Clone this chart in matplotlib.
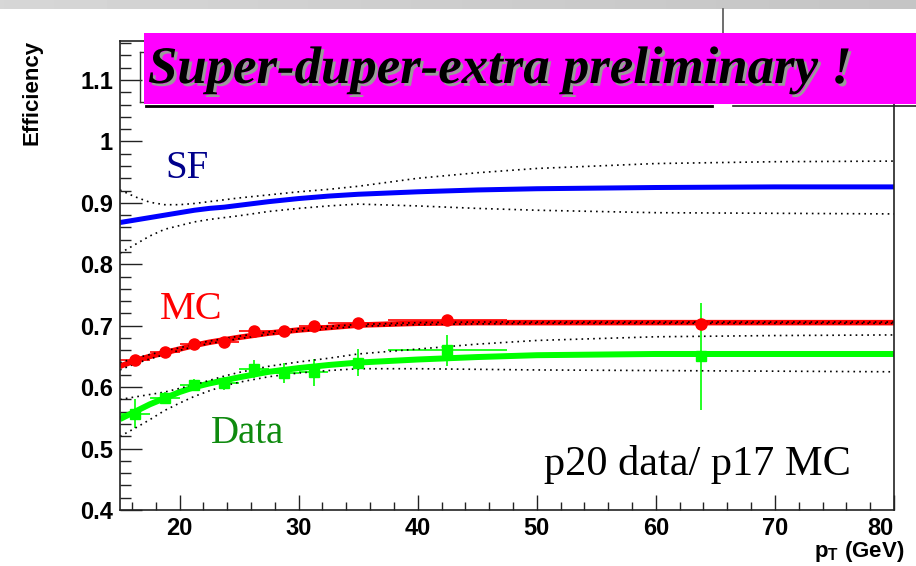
import matplotlib
matplotlib.use("Agg")
import matplotlib.pyplot as plt
import matplotlib.patheffects as pe
from matplotlib.lines import Line2D
from matplotlib.patches import Rectangle
import numpy as np

# data ========================================================================
pt_bins = [16.25, 18.75, 21.25, 23.75, 26.25, 28.75, 31.25, 35.0, 42.5, 63.75]
pt_halfwidth = [1.25, 1.25, 1.25, 1.25, 1.25, 1.25, 1.25, 2.5, 5.0, 16.25]

mc_eff = [0.644, 0.658, 0.671, 0.673, 0.691, 0.692, 0.699, 0.704, 0.709, 0.703]
mc_err = [0.006, 0.005, 0.005, 0.005, 0.004, 0.004, 0.004, 0.004, 0.004, 0.005]

data_eff = [0.557, 0.582, 0.603, 0.606, 0.630, 0.623, 0.624, 0.640, 0.660, 0.650]
data_err = [0.023, 0.010, 0.010, 0.011, 0.015, 0.016, 0.022, 0.022, 0.025, 0.087]

# fit curves and their error bands
fit_x = [15, 16.25, 17.5, 18.75, 20, 21.25, 22.5, 23.75, 25, 27.5, 30, 32.5, 35, 40, 45, 50, 60, 70, 80]
mc_fit = [0.634, 0.643, 0.650, 0.656, 0.662, 0.668, 0.673, 0.677, 0.681, 0.688, 0.693, 0.697, 0.701, 0.704, 0.705, 0.705, 0.705, 0.705, 0.705]
mc_hi = [0.640, 0.647, 0.653, 0.659, 0.664, 0.670, 0.675, 0.679, 0.683, 0.690, 0.695, 0.699, 0.702, 0.705, 0.706, 0.706, 0.706, 0.706, 0.706]
mc_lo = [0.628, 0.638, 0.646, 0.653, 0.660, 0.666, 0.671, 0.675, 0.679, 0.686, 0.691, 0.695, 0.699, 0.702, 0.703, 0.704, 0.704, 0.704, 0.704]
data_fit = [0.548, 0.560, 0.572, 0.582, 0.592, 0.600, 0.606, 0.611, 0.616, 0.625, 0.631, 0.636, 0.640, 0.645, 0.649, 0.652, 0.654, 0.654, 0.654]
data_hi = [0.580, 0.584, 0.588, 0.592, 0.598, 0.604, 0.611, 0.618, 0.624, 0.634, 0.641, 0.647, 0.654, 0.662, 0.670, 0.676, 0.682, 0.684, 0.685]
data_lo = [0.520, 0.533, 0.547, 0.562, 0.574, 0.585, 0.594, 0.602, 0.608, 0.617, 0.623, 0.627, 0.630, 0.630, 0.629, 0.628, 0.627, 0.626, 0.625]
sf_fit = [0.868, 0.872, 0.876, 0.880, 0.884, 0.888, 0.891, 0.893, 0.896, 0.902, 0.907, 0.911, 0.914, 0.918, 0.921, 0.923, 0.925, 0.926, 0.926]
sf_hi = [0.921, 0.910, 0.901, 0.897, 0.897, 0.899, 0.902, 0.905, 0.908, 0.913, 0.918, 0.922, 0.927, 0.940, 0.949, 0.956, 0.964, 0.967, 0.968]
sf_lo = [0.818, 0.832, 0.846, 0.857, 0.863, 0.869, 0.873, 0.876, 0.879, 0.886, 0.891, 0.895, 0.898, 0.895, 0.891, 0.888, 0.884, 0.883, 0.882]

W, H = 916, 566
plt.rcParams['mathtext.fontset'] = 'custom'
plt.rcParams['mathtext.bf'] = 'Liberation Sans:bold'
plt.rcParams['mathtext.rm'] = 'Liberation Sans'

fig = plt.figure(figsize=(W / 100, H / 100), dpi=100)
fig.patch.set_facecolor('white')

def fx(px):
    return px / W

def fy(py):
    return 1 - py / H

# slide header bar ============================================================
bar = fig.add_axes([0, fy(9), 1, 9 / H])
grad = np.linspace(0.84, 0.77, 256).reshape(1, -1)
bar.imshow(grad, aspect='auto', cmap='gray', vmin=0, vmax=1)
bar.axis('off')

# main pad ====================================================================
ax = fig.add_axes([fx(120), fy(510), fx(894 - 120), (510 - 41) / H])
ax.set_xlim(15, 80)
ax.set_ylim(0.4, 1.1635)

dots = dict(color='black', lw=1.2, ls=(0, (1, 2.5)))

# scale factor
ax.plot(fit_x, sf_hi, **dots)
ax.plot(fit_x, sf_lo, **dots)
ax.plot(fit_x, sf_fit, color='#0000ff', lw=3.6, solid_capstyle='butt')

# data
ax.errorbar(pt_bins, data_eff, xerr=pt_halfwidth, yerr=data_err, fmt='s',
            color='#00ff00', ms=7.5, elinewidth=1.2, capsize=0)
ax.plot(fit_x, data_fit, color='#00ff00', lw=4.3, solid_capstyle='butt')
ax.plot(fit_x, data_hi, **dots)
ax.plot(fit_x, data_lo, **dots)

# MC
ax.errorbar(pt_bins, mc_eff, xerr=pt_halfwidth, yerr=mc_err, fmt='o',
            color='#ff0000', ms=8, elinewidth=1.2, capsize=0)
ax.plot(fit_x, mc_fit, color='#ff0000', lw=4.0, solid_capstyle='butt')
ax.plot(fit_x, mc_hi, **dots)
ax.plot(fit_x, mc_lo, **dots)

# axes styling
ax.set_xticks(np.arange(20, 81, 10))
ax.set_xticks(np.arange(16, 81, 2), minor=True)
ax.set_yticks(np.arange(0.4, 1.15, 0.1))
ax.set_yticks(np.arange(0.4, 1.165, 0.02), minor=True)
ax.set_yticklabels(['0.4', '0.5', '0.6', '0.7', '0.8', '0.9', '1', '1.1'])
ax.tick_params(which='both', direction='in', top=False, right=False, color='#222222')
ax.tick_params(axis='y', which='major', length=15.5, width=1.0, pad=5)
ax.tick_params(axis='y', which='minor', length=8, width=1.0)
ax.tick_params(axis='x', which='major', length=11, width=1.0, pad=5)
ax.tick_params(axis='x', which='minor', length=5.5, width=1.0)
for lab in ax.get_xticklabels() + ax.get_yticklabels():
    lab.set_fontfamily('Liberation Sans')
    lab.set_fontweight('bold')
    lab.set_fontsize(17)
# ROOT pulls the last label inside the frame
ax.get_xticklabels()[-1].set_horizontalalignment('right')
for s in ax.spines.values():
    s.set_linewidth(1.2)
    s.set_color('#222222')

# labels on the plot
serif = 'Liberation Serif'
ax.text(18.77, 0.940, 'SF', color='#00008b', fontsize=28, family=serif, va='baseline')
ax.text(18.35, 0.711, 'MC', color='#ff0000', fontsize=29, family=serif, va='baseline')
ax.text(22.6, 0.509, 'Data', color='#0f8a0f', fontsize=28, family=serif, va='baseline')
ax.text(50.6, 0.457, 'p20 data/ p17 MC', color='black', fontsize=30.5, family=serif, va='baseline')

fig.text(fx(32), fy(40), 'Efficiency', rotation=90, ha='center', va='top',
         family='Liberation Sans', fontweight='bold', fontsize=16)
fig.text(fx(904), fy(557), r'$\mathbf{p_{T}}$ (GeV)', ha='right', va='baseline',
         family='Liberation Sans', fontweight='bold', fontsize=16)

# "preliminary" banner ========================================================
fig.add_artist(Line2D([fx(140), fx(140)], [fy(52), fy(102)], color='#333333', lw=1))
fig.add_artist(Line2D([fx(140), fx(144)], [fy(52), fy(52)], color='#333333', lw=1))
fig.add_artist(Line2D([fx(140), fx(144)], [fy(102), fy(102)], color='#333333', lw=1))
fig.add_artist(Rectangle((fx(144), fy(104)), fx(W - 144), 71 / H,
                         facecolor='#ff00ff', edgecolor='none', zorder=5))
fig.add_artist(Line2D([fx(146), fx(712)], [fy(105.5), fy(105.5)], color='black', lw=2, zorder=5))
fig.add_artist(Line2D([fx(733), fx(W)], [fy(105.5), fy(105.5)], color='#222222', lw=1.2, zorder=5))
fig.add_artist(Line2D([fx(723), fx(723)], [fy(9), fy(33)], color='#555555', lw=1.2))
fig.text(fx(148), fy(83), 'Super-duper-extra preliminary !', family=serif,
         fontweight='bold', style='italic', fontsize=38, color='black', va='baseline',
         zorder=6,
         path_effects=[pe.withSimplePatchShadow(offset=(2, -2), shadow_rgbFace='#9a9a9a', alpha=1.0)])

fig.savefig('out.png', dpi=100)
